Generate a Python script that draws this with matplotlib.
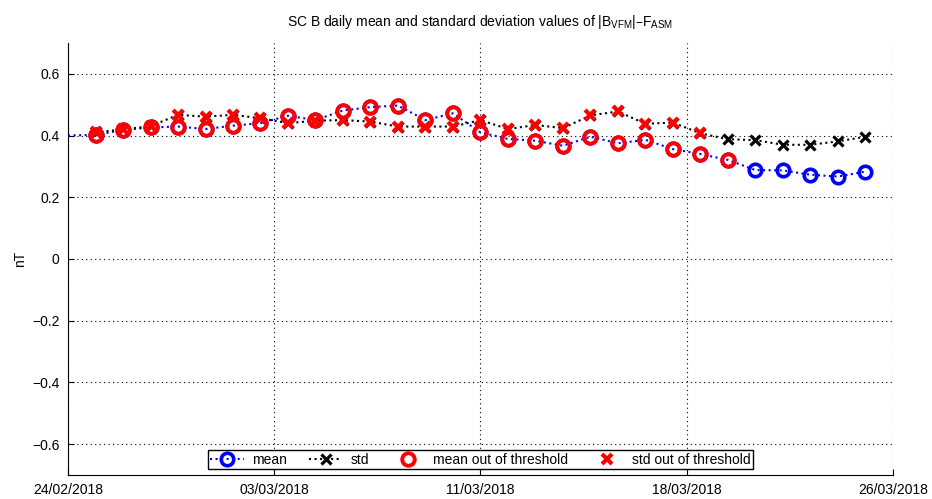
import datetime as dt
import numpy as np
import matplotlib
matplotlib.use("Agg")
import matplotlib.pyplot as plt
import matplotlib.dates as mdates

plt.rcParams['font.family'] = ['Liberation Sans', 'DejaVu Sans']
plt.rcParams['mathtext.default'] = 'regular'

# daily values (day offset from 24/02/2018)
start = dt.datetime(2018, 2, 24)
end = dt.datetime(2018, 3, 26)
days = list(range(0, 30))
mean_vals = [0.400, 0.402, 0.418, 0.426, 0.429, 0.421, 0.432, 0.440, 0.464, 0.450,
             0.481, 0.492, 0.497, 0.450, 0.472, 0.410, 0.389, 0.383, 0.367, 0.396,
             0.375, 0.386, 0.356, 0.340, 0.321, 0.288, 0.287, 0.273, 0.267, 0.283]
std_vals = [None, 0.410, 0.420, 0.430, 0.467, 0.461, 0.467, 0.456, 0.440, 0.448,
            0.450, 0.445, 0.429, 0.429, 0.429, 0.450, 0.421, 0.434, 0.424, 0.465,
            0.478, 0.438, 0.442, 0.407, 0.388, 0.385, 0.370, 0.370, 0.381, 0.396]
# last day index (inclusive) flagged as out of threshold
mean_out_last = 24
std_out_last = 23

dates = [start + dt.timedelta(days=d) for d in days]

fig = plt.figure(figsize=(9.32, 4.99), dpi=100)
ax = fig.add_axes([0.073, 0.048, 0.885, 0.866])

# mean and std lines (first day has no marker)
ax.plot(dates, mean_vals, linestyle=':', color='blue', linewidth=1.5,
        marker='o', markersize=9, markeredgewidth=2.6, markerfacecolor='none',
        markevery=slice(1, None), label='mean', zorder=3)
std_d = [d for d, v in zip(dates, std_vals) if v is not None]
std_v = [v for v in std_vals if v is not None]
ax.plot(std_d, std_v, linestyle=':', color='black', linewidth=1.5,
        marker='x', markersize=7, markeredgewidth=2.3, label='std', zorder=3)

# out of threshold points
m_idx = [i for i in range(1, mean_out_last + 1)]
s_idx = [i for i in range(1, std_out_last + 1)]
ax.plot([dates[i] for i in m_idx], [mean_vals[i] for i in m_idx], linestyle='none',
        marker='o', markersize=9, markeredgewidth=2.8, markerfacecolor='none',
        color='red', label='mean out of threshold', zorder=4)
ax.plot([dates[i] for i in s_idx], [std_vals[i] for i in s_idx], linestyle='none',
        marker='x', markersize=7, markeredgewidth=3,
        color='red', label='std out of threshold', zorder=4)

ax.set_xlim(start, end)
ax.set_ylim(-0.7, 0.7)
ticks = np.linspace(mdates.date2num(start), mdates.date2num(end), 5)
ax.set_xticks(ticks)
ax.xaxis.set_major_formatter(mdates.DateFormatter('%d/%m/%Y'))
ax.set_yticks([-0.6, -0.4, -0.2, 0, 0.2, 0.4, 0.6])
ax.set_yticklabels(['\u22120.6', '\u22120.4', '\u22120.2', '0', '0.2', '0.4', '0.6'])
ax.tick_params(direction='in', length=4, labelsize=10, pad=6)
ax.grid(True, linestyle=(0, (1, 3)), color='black', linewidth=0.8)
ax.spines['top'].set_visible(False)
ax.spines['right'].set_visible(False)
ax.set_ylabel('nT', fontsize=10)
ax.set_title(r'SC B daily mean and standard deviation values of $|B_{VFM}|$' + '\u2013' + r'$F_{ASM}$',
             fontsize=10, pad=12)

leg = ax.legend(loc='lower center', ncol=4, fontsize=10, frameon=True,
                fancybox=False, framealpha=1, edgecolor='black',
                handlelength=2.4, handletextpad=0.6, columnspacing=1.6,
                borderpad=0.2, borderaxespad=0.4)
leg.get_frame().set_linewidth(1)

fig.savefig('out.png', dpi=100)
